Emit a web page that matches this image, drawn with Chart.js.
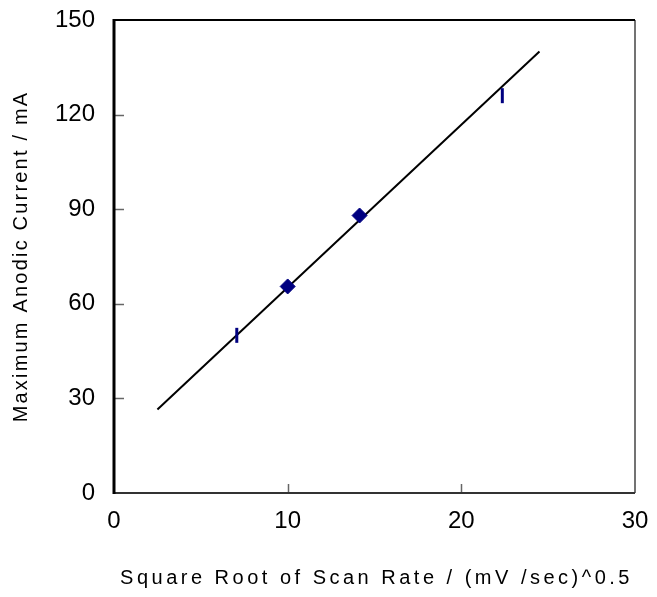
<!DOCTYPE html>
<html>
<head>
<meta charset="utf-8">
<script src="https://cdn.jsdelivr.net/npm/chart.js@4"></script>
<style>
  html, body { margin: 0; padding: 0; background: #fff; }
  #wrap { width: 657px; height: 597px; }
</style>
</head>
<body>
<div id="wrap"><canvas id="myChart"></canvas></div>
<script>
// measured points (sqrt of scan rate vs peak current)
const scanRoot = [7.07, 10, 14.14, 22.36];
const peakCurrent = [50, 65.5, 88, 126];
const markerKind = ["line", "rectRot", "rectRot", "line"];
// fitted line, ends
const fitX = [2.5, 24.5];
const fitY = [26.5, 140];
const xTicks = [0, 10, 20, 30];
const yTicks = [0, 30, 60, 90, 120, 150];
const xTitle = "Square Root of Scan Rate / (mV /sec)^0.5";
const yTitle = "Maximum Anodic Current / mA";

const ctx = document.getElementById("myChart");

const frame = {
  id: "frame",
  afterDraw(chart) {
    const c = chart.ctx;
    const a = chart.chartArea;
    const xs = chart.scales.x;
    const ys = chart.scales.y;
    c.save();
    // inward tick marks
    c.strokeStyle = "#666";
    c.lineWidth = 1.5;
    yTicks.slice(1, -1).forEach((v) => {
      const py = Math.round(ys.getPixelForValue(v)) + 0.5;
      c.beginPath();
      c.moveTo(a.left, py);
      c.lineTo(a.left + 10, py);
      c.stroke();
    });
    xTicks.slice(1, -1).forEach((v) => {
      const px = Math.round(xs.getPixelForValue(v)) + 0.5;
      c.beginPath();
      c.moveTo(px, a.bottom);
      c.lineTo(px, a.bottom - 9);
      c.stroke();
    });
    // box
    c.strokeStyle = "#444";
    c.lineWidth = 1.5;
    c.beginPath();
    c.moveTo(a.right, a.top);
    c.lineTo(a.right, a.bottom);
    c.stroke();
    c.strokeStyle = "#333";
    c.lineWidth = 2;
    c.beginPath();
    c.moveTo(a.left, a.bottom);
    c.lineTo(a.right, a.bottom);
    c.stroke();
    c.strokeStyle = "#000";
    c.beginPath();
    c.moveTo(a.left, a.top);
    c.lineTo(a.right, a.top);
    c.stroke();
    c.lineWidth = 3;
    c.beginPath();
    c.moveTo(a.left, a.top - 1);
    c.lineTo(a.left, a.bottom + 1);
    c.stroke();
    // axis titles, spaced like the original
    c.fillStyle = "#000";
    c.font = "20px 'Liberation Sans', Arial, sans-serif";
    c.textAlign = "center";
    c.textBaseline = "middle";
    c.letterSpacing = "3.5px";
    c.fillText(xTitle, (a.left + a.right) / 2 + 2, 578);
    c.letterSpacing = "2.2px";
    c.translate(21, (a.top + a.bottom) / 2);
    c.rotate(-Math.PI / 2);
    c.fillText(yTitle, 0, 0);
    c.restore();
  },
};

new Chart(ctx, {
  type: "scatter",
  data: {
    datasets: [
      {
        type: "line",
        data: fitX.map((x, i) => ({ x: x, y: fitY[i] })),
        borderColor: "#000",
        borderWidth: 2,
        pointRadius: 0,
        fill: false,
        order: 2,
      },
      {
        data: scanRoot.map((x, i) => ({ x: x, y: peakCurrent[i] })),
        pointStyle: markerKind,
        rotation: markerKind.map((k) => (k === "line" ? 90 : 0)),
        radius: 7.5,
        backgroundColor: "#000080",
        borderColor: "#000080",
        borderWidth: markerKind.map((k) => (k === "line" ? 3 : 1)),
        order: 1,
      },
    ],
  },
  options: {
    responsive: true,
    maintainAspectRatio: false,
    animation: false,
    layout: { padding: { top: 20, right: 22, left: 0, bottom: 0 } },
    plugins: {
      legend: { display: false },
      tooltip: { enabled: false },
    },
    scales: {
      x: {
        type: "linear",
        min: 0,
        max: 30,
        afterFit: (s) => {
          s.height = 104;
          s.paddingLeft = 0;
          s.paddingRight = 0;
        },
        afterBuildTicks: (s) => { s.ticks = xTicks.map((v) => ({ value: v })); },
        grid: { display: false, drawTicks: false },
        border: { display: false },
        ticks: {
          color: "#000",
          padding: 14,
          font: { family: "'Liberation Sans', Arial, sans-serif", size: 24 },
        },
      },
      y: {
        type: "linear",
        min: 0,
        max: 150,
        afterFit: (s) => {
          s.width = 114;
          s.paddingTop = 0;
          s.paddingBottom = 0;
        },
        afterBuildTicks: (s) => { s.ticks = yTicks.map((v) => ({ value: v })); },
        grid: { display: false, drawTicks: false },
        border: { display: false },
        ticks: {
          color: "#000",
          padding: 19,
          font: { family: "'Liberation Sans', Arial, sans-serif", size: 24 },
        },
      },
    },
  },
  plugins: [frame],
});
</script>
</body>
</html>
